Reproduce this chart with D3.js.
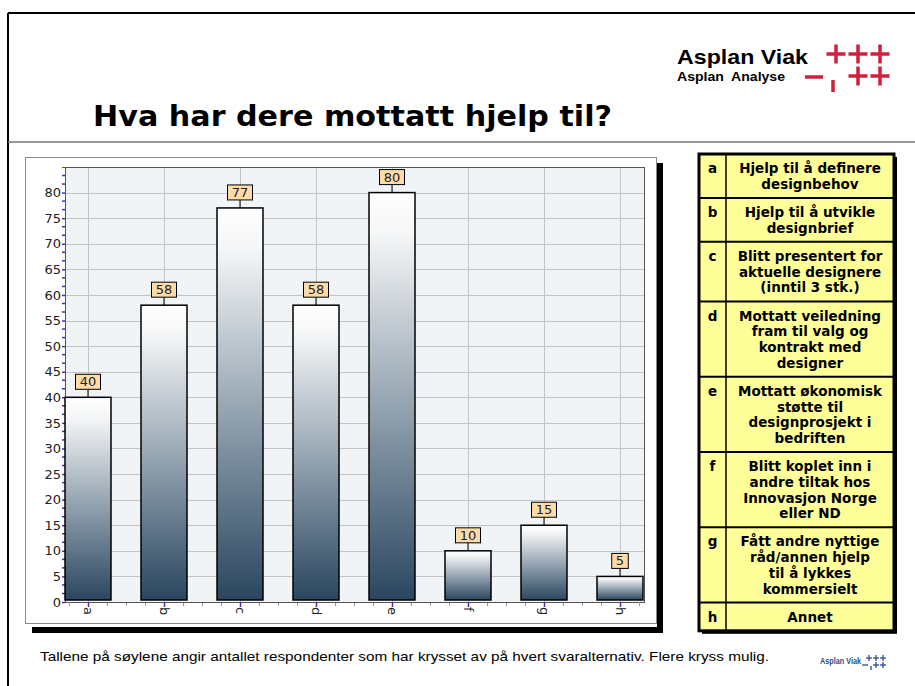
<!DOCTYPE html>
<html><head><meta charset="utf-8">
<script src="https://cdn.jsdelivr.net/npm/d3@7/dist/d3.min.js"></script>
<style>html,body{margin:0;padding:0;background:#fff;overflow:hidden}svg{display:block}</style>
</head><body>
<script>
const categories = ["a","b","c","d","e","f","g","h"];
const values = [40,58,77,58,80,10,15,5];
const yTickValues = [0,5,10,15,20,25,30,35,40,45,50,55,60,65,70,75,80];
const title = "Hva har dere mottatt hjelp til?";
const footnote = "Tallene på søylene angir antallet respondenter som har krysset av på hvert svaralternativ. Flere kryss mulig.";
const legendLetters = ["a","b","c","d","e","f","g","h"];
const legendTexts = [
  ["Hjelp til å definere","designbehov"],
  ["Hjelp til å utvikle","designbrief"],
  ["Blitt presentert for","aktuelle designere","(inntil 3 stk.)"],
  ["Mottatt veiledning","fram til valg og","kontrakt med","designer"],
  ["Mottatt økonomisk","støtte til","designprosjekt i","bedriften"],
  ["Blitt koplet inn i","andre tiltak hos","Innovasjon Norge","eller ND"],
  ["Fått andre nyttige","råd/annen hjelp","til å lykkes","kommersielt"],
  ["Annet"]
];

const W = 915, H = 686;
const svg = d3.select("body").append("svg").attr("width", W).attr("height", H);
const defs = svg.append("defs");
const grad = defs.append("linearGradient").attr("id","barGrad").attr("x1",0).attr("y1",0).attr("x2",0).attr("y2",1);
grad.append("stop").attr("offset","0").attr("stop-color","#ffffff");
grad.append("stop").attr("offset","0.1").attr("stop-color","#f5f6f7");
grad.append("stop").attr("offset","0.55").attr("stop-color","#8e9eac");
grad.append("stop").attr("offset","1").attr("stop-color","#2a465f");

// page frame
svg.append("line").attr("x1",8).attr("x2",W).attr("y1",13).attr("y2",13).attr("stroke","#000").attr("stroke-width",2);
svg.append("line").attr("x1",8).attr("x2",8).attr("y1",13).attr("y2",H).attr("stroke","#000").attr("stroke-width",2);
svg.append("line").attr("x1",8).attr("x2",W).attr("y1",142).attr("y2",142).attr("stroke","#777").attr("stroke-width",1.5);

// title
svg.append("text").attr("x",93).attr("y",126).attr("font-family","DejaVu Sans").attr("font-weight","bold")
  .attr("font-size",29).attr("fill","#000").attr("textLength",519).attr("lengthAdjust","spacingAndGlyphs").text(title);

// logo
const red = "#d01f3c";
svg.append("text").attr("x",677).attr("y",64).attr("font-family","Liberation Sans").attr("font-weight","bold")
  .attr("font-size",21).attr("textLength",131).attr("lengthAdjust","spacingAndGlyphs").text("Asplan Viak");
svg.append("text").attr("x",677).attr("y",81).attr("font-family","Liberation Sans").attr("font-weight","bold")
  .attr("font-size",12).attr("textLength",108).attr("lengthAdjust","spacingAndGlyphs").attr("xml:space","preserve").text("Asplan  Analyse");
function plus(g, cx, cy, r, sw, col){
  g.append("line").attr("x1",cx-r).attr("x2",cx+r).attr("y1",cy).attr("y2",cy).attr("stroke",col).attr("stroke-width",sw);
  g.append("line").attr("x1",cx).attr("x2",cx).attr("y1",cy-r).attr("y2",cy+r).attr("stroke",col).attr("stroke-width",sw);
}
const logo = svg.append("g");
plus(logo,836,54,9.5,3.5,red); plus(logo,858,54,9.5,3.5,red); plus(logo,880,54,9.5,3.5,red);
logo.append("line").attr("x1",805).attr("x2",823).attr("y1",77).attr("y2",77).attr("stroke",red).attr("stroke-width",3.5);
logo.append("line").attr("x1",833).attr("x2",833).attr("y1",80).attr("y2",92).attr("stroke",red).attr("stroke-width",3.5);
plus(logo,858,76,9.5,3.5,red); plus(logo,880,76,9.5,3.5,red);

// chart frame
svg.append("rect").attr("x",32).attr("y",163).attr("width",631).attr("height",470).attr("fill","#000");
svg.append("rect").attr("x",25).attr("y",157).attr("width",632).attr("height",470).attr("fill","#fff");
svg.append("rect").attr("x",25.5).attr("y",157.5).attr("width",631).attr("height",466).attr("fill","#fff").attr("stroke","#8a8a8a");

const pl = 65, pr = 644, pt = 167, pb = 602;
const x = d3.scalePoint().domain(categories).range([88,620]);
const y = d3.scaleLinear().domain([0,85]).range([pb,pt]);
const barW = 46;

svg.append("rect").attr("x",pl).attr("y",pt).attr("width",pr-pl).attr("height",pb-pt).attr("fill","#f1f4f6");
// grid
svg.append("g").selectAll("line").data(yTickValues.filter(v=>v>0)).join("line")
  .attr("x1",pl).attr("x2",pr).attr("y1",d=>Math.round(y(d))+0.5).attr("y2",d=>Math.round(y(d))+0.5).attr("stroke","#c4c4c4");
svg.append("g").selectAll("line").data(categories).join("line")
  .attr("x1",d=>x(d)+0.5).attr("x2",d=>x(d)+0.5).attr("y1",pt).attr("y2",pb).attr("stroke","#c4c4c4");
svg.append("rect").attr("x",pl+0.5).attr("y",pt+0.5).attr("width",pr-pl).attr("height",pb-pt).attr("fill","none").attr("stroke","#555");

// y axis
const purple = "#5a2a9a";
const yAxis = svg.append("g").attr("transform",`translate(${pl},0)`)
  .call(d3.axisLeft(y).tickValues(yTickValues).tickSize(3).tickPadding(1).tickFormat(d3.format("d")));
yAxis.select(".domain").attr("stroke","#555");
yAxis.selectAll(".tick line").attr("stroke",purple).attr("stroke-width",1.5);
yAxis.selectAll(".tick text").attr("font-family","DejaVu Sans").attr("font-size",13).attr("fill","#222");
const minor = d3.range(0,85.001,5/3).filter(v=>Math.abs(v/5-Math.round(v/5))>0.01);
svg.append("g").selectAll("line").data(minor).join("line")
  .attr("x1",pl-3).attr("x2",pl).attr("y1",d=>y(d)).attr("y2",d=>y(d)).attr("stroke",purple).attr("stroke-width",1.5);

// x axis
const step = x.step();
const xMinor = d3.range(-1,32).map(k=>x(categories[0])+k*step/4).filter(p=>p>=pl && p<=pr);
svg.append("g").selectAll("line").data(xMinor).join("line")
  .attr("x1",d=>d+0.5).attr("x2",d=>d+0.5).attr("y1",pb).attr("y2",pb+4).attr("stroke","#999");
const xAxis = svg.append("g").attr("transform",`translate(0,${pb})`)
  .call(d3.axisBottom(x).tickSize(5).tickPadding(3));
xAxis.select(".domain").attr("stroke","#555");
xAxis.selectAll(".tick line").attr("stroke",purple).attr("stroke-width",1.5);
xAxis.selectAll(".tick text").attr("font-family","DejaVu Sans").attr("font-size",13).attr("fill","#222")
  .attr("text-anchor","start").attr("dy","0.35em").attr("y",0).attr("transform","translate(0,5) rotate(90)");

// bars
svg.append("g").selectAll("rect").data(values).join("rect")
  .attr("x",(d,i)=>x(categories[i])-barW/2).attr("y",d=>y(d))
  .attr("width",barW).attr("height",d=>y(0)-2-y(d))
  .attr("fill","url(#barGrad)").attr("stroke","#000").attr("stroke-width",1.5);

// value labels
const lab = svg.append("g").selectAll("g").data(values).join("g")
  .attr("transform",(d,i)=>`translate(${x(categories[i])},${y(d)})`);
lab.append("line").attr("x1",0).attr("x2",0).attr("y1",-8).attr("y2",0).attr("stroke","#000");
lab.append("rect").attr("x",d=>-(String(d).length*8.5+8)/2).attr("y",-23).attr("width",d=>String(d).length*8.5+8).attr("height",15)
  .attr("fill","#fddcaa").attr("stroke","#000");
lab.append("text").attr("y",-11).attr("text-anchor","middle").attr("font-family","DejaVu Sans").attr("font-size",13).attr("fill","#222")
  .text(d=>d);

// legend table
const tx0 = 699, tx1 = 894, tcol = 726, ty0 = 154, lh = 15.7;
let yy = ty0;
const tg = svg.append("g");
const rows = legendTexts.map((lines,i)=>{ const h = lines.length*lh + 12.5; const r = {y:yy,h,lines,letter:legendLetters[i]}; yy += h; return r; });
const tableBottom = yy;
tg.append("rect").attr("x",tx0+3).attr("y",ty0+3).attr("width",tx1-tx0).attr("height",tableBottom-ty0).attr("fill","#000");
tg.append("rect").attr("x",tx0).attr("y",ty0).attr("width",tx1-tx0).attr("height",tableBottom-ty0).attr("fill","#ffff99");
rows.forEach((r,i)=>{
  const cy = r.y + r.h/2;
  const firstY = cy - (r.lines.length-1)*lh/2;
  r.lines.forEach((t,j)=>{
    tg.append("text").attr("x",(tcol+tx1)/2).attr("y",firstY+j*lh+5).attr("text-anchor","middle")
      .attr("font-family","DejaVu Sans").attr("font-weight","bold").attr("font-size",13.5).attr("fill","#000").text(t);
  });
  tg.append("text").attr("x",(tx0+tcol)/2).attr("y",firstY+5).attr("text-anchor","middle")
    .attr("font-family","DejaVu Sans").attr("font-weight","bold").attr("font-size",13.5).attr("fill","#000").text(r.letter);
  if(i>0) tg.append("line").attr("x1",tx0).attr("x2",tx1).attr("y1",r.y).attr("y2",r.y).attr("stroke","#000").attr("stroke-width",2);
});
tg.append("line").attr("x1",tcol).attr("x2",tcol).attr("y1",ty0).attr("y2",tableBottom).attr("stroke","#000").attr("stroke-width",1.5);
tg.append("rect").attr("x",tx0).attr("y",ty0).attr("width",tx1-tx0).attr("height",tableBottom-ty0).attr("fill","none").attr("stroke","#000").attr("stroke-width",3);

// footnote
svg.append("text").attr("x",40).attr("y",661).attr("font-family","Liberation Sans").attr("font-size",13.5).attr("fill","#000")
  .attr("textLength",729).attr("lengthAdjust","spacingAndGlyphs").text(footnote);

// small logo
const blue = "#2a4d8f";
svg.append("text").attr("x",820).attr("y",664).attr("font-family","Liberation Sans").attr("font-weight","bold")
  .attr("font-size",8.5).attr("fill",blue).attr("textLength",41).attr("lengthAdjust","spacingAndGlyphs").text("Asplan Viak");
const sl = svg.append("g");
plus(sl,869,658,3,1.3,blue); plus(sl,876,658,3,1.3,blue); plus(sl,883,658,3,1.3,blue);
sl.append("line").attr("x1",862).attr("x2",868).attr("y1",665).attr("y2",665).attr("stroke",blue).attr("stroke-width",1.3);
sl.append("line").attr("x1",871).attr("x2",871).attr("y1",666).attr("y2",670).attr("stroke",blue).attr("stroke-width",1.3);
plus(sl,876,665,3,1.3,blue); plus(sl,883,665,3,1.3,blue);
</script>
</body></html>
